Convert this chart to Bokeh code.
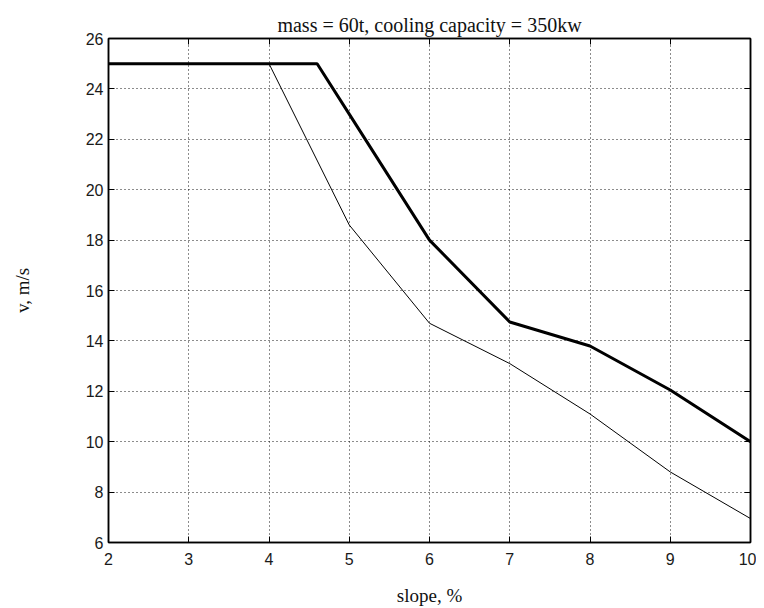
from bokeh.plotting import figure
from bokeh.models import Range1d, LinearAxis, FixedTicker
from bokeh.embed import file_html
from bokeh.resources import INLINE

# Data
slope_thick = [2, 3, 4, 4.6, 5, 6, 7, 8, 9, 10]
v_thick = [25, 25, 25, 25, 23.0, 18.0, 14.75, 13.8, 12.05, 10.0]
slope_thin = [2, 3, 4, 5, 6, 7, 8, 9, 10]
v_thin = [25, 25, 25, 18.6, 14.7, 13.1, 11.1, 8.8, 6.95]

x_ticks = [2, 3, 4, 5, 6, 7, 8, 9, 10]
y_ticks = [6, 8, 10, 12, 14, 16, 18, 20, 22, 24, 26]

title_text = "mass = 60t, cooling capacity = 350kw"
x_label = "slope, %"
y_label = "v, m/s"

p = figure(width=756, height=608, output_backend="svg", toolbar_location=None,
           x_range=Range1d(2, 10), y_range=Range1d(6, 26),
           min_border_left=108, min_border_right=6, min_border_top=38, min_border_bottom=65,
           title=title_text)

p.title.align = "center"
p.title.text_font = "Liberation Serif"
p.title.text_font_size = "20px"
p.title.text_font_style = "normal"
p.title.text_color = "#111111"
p.title.standoff = 6

p.outline_line_color = "black"
p.outline_line_width = 1.5
p.outline_line_alpha = 1.0

for ax, ticks in ((p.xaxis[0], x_ticks), (p.yaxis[0], y_ticks)):
    ax.ticker = FixedTicker(ticks=ticks)
    ax.major_tick_in = 6
    ax.major_tick_out = 0
    ax.minor_tick_in = 0
    ax.minor_tick_out = 0
    ax.major_tick_line_color = "black"
    ax.major_tick_line_width = 1
    ax.axis_line_color = "black"
    ax.axis_line_width = 1.5
    ax.major_label_text_font = "Liberation Sans"
    ax.major_label_text_font_size = "16px"
    ax.major_label_text_color = "#1a1a1a"
    ax.axis_label_text_font = "Liberation Serif"
    ax.axis_label_text_font_size = "19px"
    ax.axis_label_text_font_style = "normal"
    ax.axis_label_text_color = "#111111"

p.xaxis[0].axis_label = x_label
p.xaxis[0].major_label_standoff = 10
p.xaxis[0].axis_label_standoff = 17
p.yaxis[0].axis_label = y_label
p.yaxis[0].major_label_standoff = 5
p.yaxis[0].axis_label_standoff = 50

# Extra axes on the right and top for inward ticks (box)
for loc, ticks in (("right", y_ticks), ("above", x_ticks)):
    ax = LinearAxis(ticker=FixedTicker(ticks=ticks))
    ax.major_tick_in = 6
    ax.major_tick_out = 0
    ax.minor_tick_in = 0
    ax.minor_tick_out = 0
    ax.major_tick_line_color = "black"
    ax.axis_line_color = "black"
    ax.axis_line_width = 1.5
    ax.major_label_text_font_size = "0px"
    ax.major_label_standoff = 0
    ax.major_label_text_alpha = 0
    p.add_layout(ax, loc)

p.xgrid.ticker = FixedTicker(ticks=x_ticks)
p.ygrid.ticker = FixedTicker(ticks=y_ticks)
p.grid.grid_line_color = "black"
p.grid.grid_line_width = 1
p.grid.grid_line_dash = "1 3"
p.grid.grid_line_alpha = 0.9

p.line(slope_thin, v_thin, line_color="black", line_width=1)
p.line(slope_thick, v_thick, line_color="black", line_width=3)

open("out.html", "w").write(file_html(p, INLINE))
